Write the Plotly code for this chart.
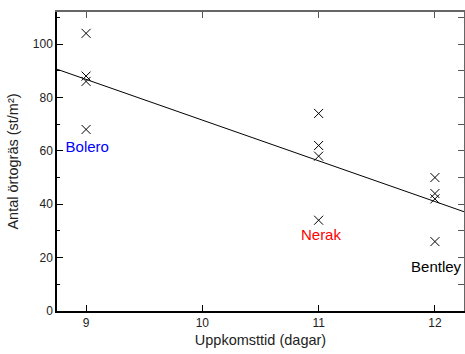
import numpy as np
import plotly.graph_objects as go

x_vals = [9, 9, 9, 9, 11, 11, 11, 11, 12, 12, 12, 12]
y_vals = [104, 88, 86, 68, 74, 62, 58, 34, 50, 44, 42, 26]

label_text = ["Bolero", "Nerak", "Bentley"]
label_x = [9.01, 11.02, 12.01]
label_y = [61, 28, 16]
label_col = ["#0000ff", "#ff0000", "#000000"]

x_range = [8.75, 12.25]
y_range = [0, 112]

slope, intercept = np.polyfit(x_vals, y_vals, 1)
fit_x = np.array(x_range)
fit_y = slope * fit_x + intercept

fig = go.Figure()
fig.add_trace(go.Scatter(x=fit_x, y=fit_y, mode="lines",
                         line=dict(color="black", width=1), showlegend=False))
fig.add_trace(go.Scatter(x=x_vals, y=y_vals, mode="markers",
                         marker=dict(symbol="x-thin-open", size=9, color="black",
                                     line=dict(color="black", width=1)),
                         showlegend=False))
fig.add_trace(go.Scatter(x=label_x, y=label_y, mode="text", text=label_text,
                         textfont=dict(color=label_col, size=15,
                                       family="Liberation Sans, Arial"),
                         showlegend=False))
fig.add_trace(go.Scatter(x=[None], y=[None], xaxis="x2", yaxis="y2",
                         showlegend=False))

font = dict(family="Liberation Sans, Arial", size=12, color="#222")
fig.update_layout(
    width=465, height=354,
    margin=dict(l=57, r=1, t=12, b=43),
    plot_bgcolor="white", paper_bgcolor="white",
    font=font,
    xaxis=dict(range=x_range, tickvals=[9, 10, 11, 12], ticks="inside",
               ticklen=6, tickcolor="black", linecolor="black", linewidth=1.5,
               showline=True, showgrid=False, zeroline=False,
               title=dict(text="Uppkomsttid (dagar)", font=dict(size=14.5), standoff=6)),
    yaxis=dict(range=y_range, tickvals=[0, 20, 40, 60, 80, 100], ticks="inside",
               ticklen=6, tickcolor="black", linecolor="black", linewidth=1.5,
               showline=True, showgrid=False, zeroline=False,
               minor=dict(dtick=10, ticks="inside", ticklen=3, tickcolor="black"),
               title=dict(text="Antal örtogräs (st/m²)", font=dict(size=14.5), standoff=11)),
    xaxis2=dict(range=x_range, overlaying="x", side="top", anchor="y",
                tickvals=[9, 10, 11, 12], ticks="inside", ticklen=6,
                tickcolor="#555", linecolor="#666", linewidth=2, showline=True,
                showticklabels=False, showgrid=False, zeroline=False),
    yaxis2=dict(range=y_range, overlaying="y", side="right", anchor="x",
                tickvals=[0, 20, 40, 60, 80, 100], ticks="inside", ticklen=6,
                tickcolor="#555", linecolor="#666", linewidth=2, showline=True,
                minor=dict(dtick=10, ticks="inside", ticklen=6, tickcolor="#555"),
                showticklabels=False, showgrid=False, zeroline=False),
)
fig.write_html("out.html")
